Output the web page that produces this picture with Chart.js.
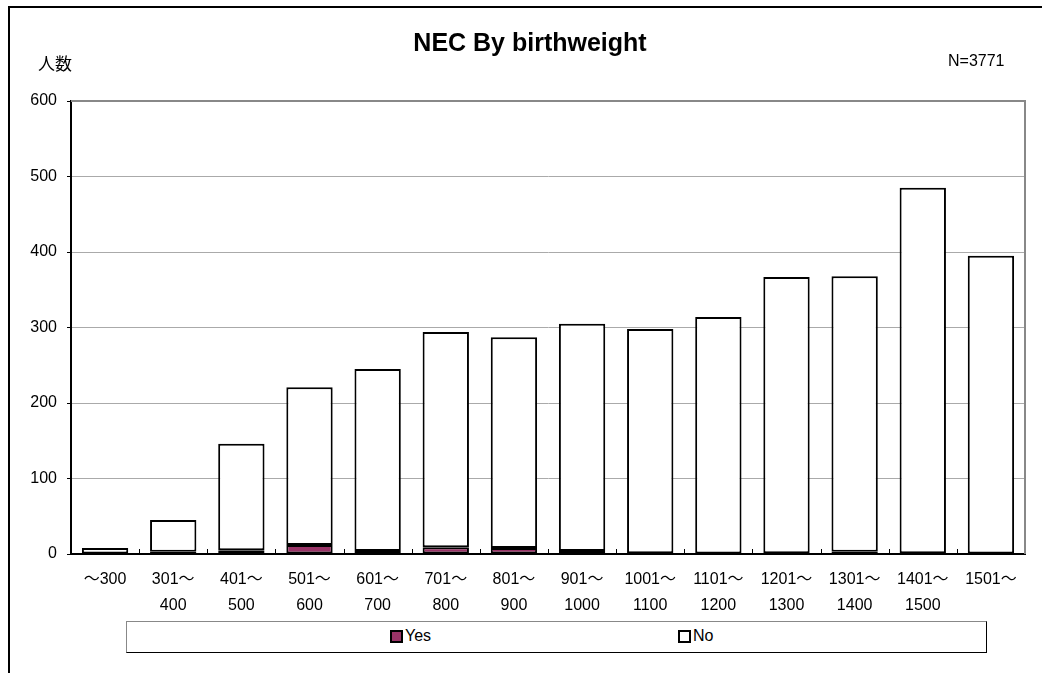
<!DOCTYPE html>
<html>
<head>
<meta charset="utf-8">
<script src="https://cdn.jsdelivr.net/npm/chart.js@4.4.0/dist/chart.umd.min.js"></script>
<style>
  html, body { margin: 0; padding: 0; background: #fff; width: 1042px; height: 673px; overflow: hidden; }
  body { position: relative; font-family: "Liberation Sans", "Noto Sans CJK JP", sans-serif; }
  #frame { position: absolute; left: 8px; top: 6px; width: 1100px; height: 800px; border-left: 2px solid #000; border-top: 2px solid #000; }
  #wrap { position: absolute; left: 0; top: 0; width: 1042px; height: 620px; }
  .txt { position: absolute; color: #000; white-space: nowrap; }
  #title { left: 0; width: 1060px; text-align: center; top: 28px; font-size: 25px; font-weight: bold; font-family: "Liberation Sans", "Noto Sans CJK JP", sans-serif; }
  #ylab { left: 38px; top: 50px; font-size: 17px; font-family: "Noto Sans CJK JP", sans-serif; }
  #nlab { left: 948px; top: 52px; font-size: 16px; }
  #legend { position: absolute; left: 126px; top: 621px; width: 859px; height: 30px; border: 1px solid #000; border-top-color: #888; border-left-color: #888; background: #fff; }
  .item { position: absolute; top: 5px; font-size: 16px; display: flex; align-items: center; }
  .sw { width: 9px; height: 9px; border: 2px solid #000; margin-right: 2px; }
</style>
</head>
<body>
<div id="frame"></div>
<div id="wrap"><canvas id="c" width="1042" height="620"></canvas></div>
<div class="txt" id="title">NEC By birthweight</div>
<div class="txt" id="ylab">人数</div>
<div class="txt" id="nlab">N=3771</div>
<div id="legend">
  <div class="item" style="left:263px"><span class="sw" style="background:#993366"></span>Yes</div>
  <div class="item" style="left:551px"><span class="sw" style="background:#fff"></span>No</div>
</div>
<script>
const categories = [
  ["～300"], ["301～","400"], ["401～","500"], ["501～","600"], ["601～","700"],
  ["701～","800"], ["801～","900"], ["901～","1000"], ["1001～","1100"], ["1101～","1200"],
  ["1201～","1300"], ["1301～","1400"], ["1401～","1500"], ["1501～"]
];
const totals = [8, 45, 146, 221, 245, 294, 287, 305, 298, 314, 367, 368, 485, 395];
const yesCounts = [0, 3, 5, 12, 4, 9, 8, 4, 1, 0, 1, 3, 1, 0];
const noCounts = [8, 42, 141, 209, 241, 285, 279, 301, 297, 314, 366, 365, 484, 395];
const yTicks = [0, 100, 200, 300, 400, 500, 600];

const fontFam = '"Liberation Sans", "Noto Sans CJK JP", sans-serif';

const ctx = document.getElementById('c');
new Chart(ctx, {
  type: 'bar',
  data: {
    labels: categories,
    datasets: [
      { label: 'Yes', data: yesCounts, backgroundColor: '#993366', borderColor: '#000', borderWidth: 2, borderSkipped: false,
        categoryPercentage: 1, barPercentage: 0.68 },
      { label: 'No', data: noCounts, backgroundColor: '#fff', borderColor: '#000', borderWidth: 2, borderSkipped: false,
        categoryPercentage: 1, barPercentage: 0.68 }
    ]
  },
  options: {
    responsive: false,
    animation: false,
    devicePixelRatio: 1,
    layout: { padding: { left: 14, right: 17, top: 101, bottom: 0 } },
    plugins: { legend: { display: false }, title: { display: false }, tooltip: { enabled: false } },
    scales: {
      x: {
        stacked: true,
        grid: { display: false },
        border: { display: true, color: '#000', width: 2 },
        ticks: { color: '#000', font: { family: fontFam, size: 16, lineHeight: 1.6 }, maxRotation: 0, autoSkip: false, padding: 5 },
        afterFit: s => { s.height = 66; }
      },
      y: {
        stacked: true,
        min: 0, max: 600,
        afterBuildTicks: s => { s.ticks = yTicks.map(v => ({ value: v })); },
        grid: { color: '#aaa', lineWidth: 1, drawTicks: true, tickLength: 4, tickColor: '#000' },
        border: { display: true, color: '#000', width: 2 },
        ticks: { color: '#000', font: { family: fontFam, size: 16 }, padding: 10 },
        afterFit: s => { s.width = 57; }
      }
    }
  },
  plugins: [{
    id: 'frameBox',
    afterDraw(chart) {
      const a = chart.chartArea, c = chart.ctx;
      const xs = chart.scales.x;
      c.save();
      c.strokeStyle = '#888';
      c.lineWidth = 2;
      c.beginPath();
      c.moveTo(a.left, a.top);
      c.lineTo(a.right, a.top);
      c.lineTo(a.right, a.bottom);
      c.stroke();
      c.strokeStyle = '#000';
      c.lineWidth = 1;
      c.beginPath();
      for (let i = 0; i < categories.length - 1; i++) {
        const x = Math.round((xs.getPixelForValue(i) + xs.getPixelForValue(i + 1)) / 2) + 0.5;
        c.moveTo(x, a.bottom);
        c.lineTo(x, a.bottom - 5);
      }
      c.stroke();
      c.restore();
    }
  }]
});
</script>
</body>
</html>
